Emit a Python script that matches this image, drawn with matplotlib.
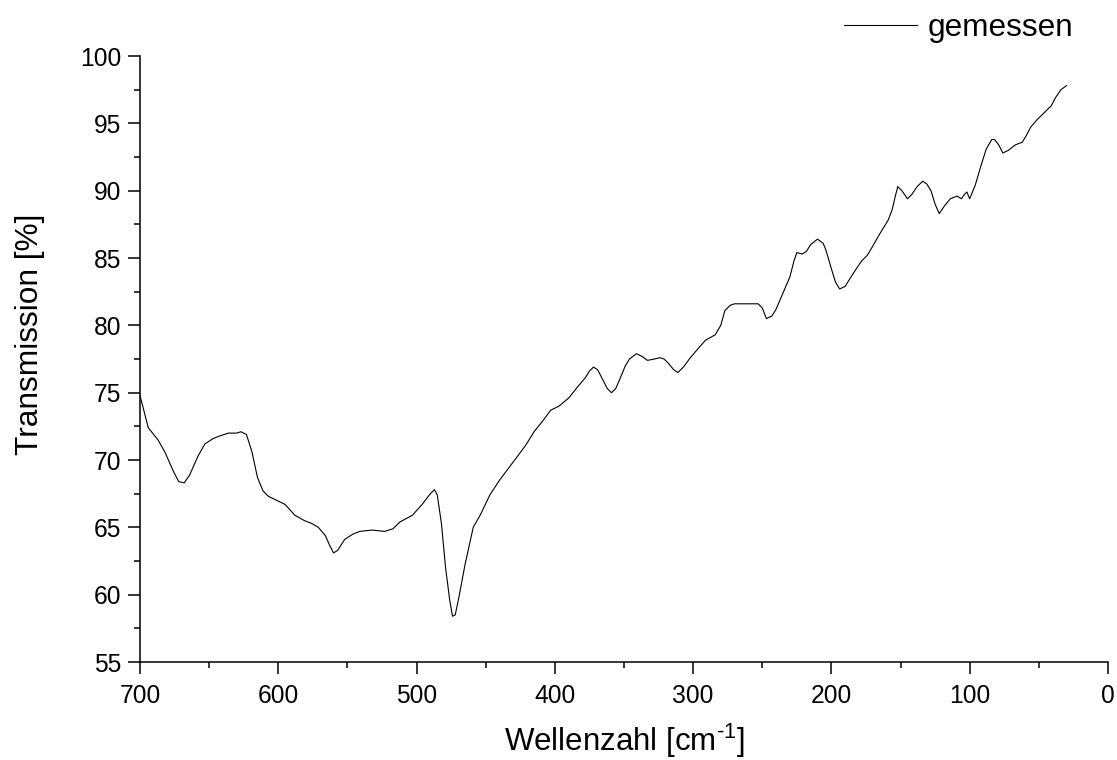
import numpy as np
import matplotlib
matplotlib.use('Agg')
import matplotlib.pyplot as plt

plt.rcParams['font.family'] = ['Liberation Sans', 'DejaVu Sans']
plt.rcParams['mathtext.fontset'] = 'custom'
plt.rcParams['mathtext.rm'] = 'Liberation Sans'
plt.rcParams['mathtext.it'] = 'Liberation Sans:italic'

# spectrum
wellenzahl = [700, 694, 687, 682, 676, 672, 668, 664, 658, 653, 647, 642, 636, 630, 627, 623,
              619, 615, 611, 607, 601, 595, 588, 581, 576, 571, 566, 563, 560, 557, 552, 546,
              541, 532, 523, 517, 512, 503, 496, 490, 487, 485, 482, 479, 476, 474, 472, 469,
              465, 459, 454, 447, 440, 432, 421, 415, 408, 403, 397, 390, 383, 378, 375, 372,
              369, 366, 362, 359, 356, 353, 349, 346, 341, 337, 333, 328, 324, 321, 318, 314,
              311, 307, 302, 297, 291, 284, 280, 277, 273, 270, 265, 259, 253, 250, 247, 243,
              240, 235, 230, 227, 225, 221, 218, 215, 210, 206, 204, 200, 197, 194, 190, 187,
              182, 178, 174, 170, 165, 159, 156, 154, 152, 149, 145, 142, 138, 134, 131, 128,
              125, 122, 118, 114, 109, 106, 104, 102, 100, 96, 92, 88, 84, 82, 79, 76, 72,
              67, 62, 59, 56, 51, 46, 41, 38, 34, 30]
transmission = [74.8, 72.4, 71.5, 70.6, 69.2, 68.4, 68.3, 68.9, 70.3, 71.2, 71.6, 71.8, 72.0, 72.0, 72.1, 71.9,
                70.6, 68.7, 67.7, 67.3, 67.0, 66.7, 65.9, 65.5, 65.3, 65.0, 64.4, 63.7, 63.1, 63.3, 64.1, 64.5,
                64.7, 64.8, 64.7, 64.9, 65.4, 65.9, 66.7, 67.5, 67.8, 67.4, 65.3, 62.0, 59.6, 58.4, 58.5, 60.0,
                62.2, 65.0, 65.9, 67.4, 68.5, 69.6, 71.1, 72.1, 73.0, 73.7, 74.0, 74.6, 75.5, 76.1, 76.6, 76.9,
                76.7, 76.1, 75.3, 75.0, 75.3, 76.0, 77.0, 77.5, 77.9, 77.7, 77.4, 77.5, 77.6, 77.5, 77.2, 76.7,
                76.5, 76.9, 77.6, 78.2, 78.9, 79.3, 80.0, 81.1, 81.5, 81.6, 81.6, 81.6, 81.6, 81.3, 80.5, 80.7,
                81.2, 82.4, 83.6, 84.8, 85.4, 85.3, 85.5, 86.0, 86.4, 86.1, 85.6, 84.2, 83.2, 82.7, 82.9, 83.4,
                84.2, 84.8, 85.2, 85.9, 86.8, 87.8, 88.6, 89.5, 90.3, 90.0, 89.4, 89.7, 90.3, 90.7, 90.5, 90.0,
                89.0, 88.3, 88.9, 89.4, 89.6, 89.4, 89.7, 89.9, 89.4, 90.4, 91.8, 93.1, 93.8, 93.8, 93.4, 92.8,
                93.0, 93.4, 93.6, 94.1, 94.7, 95.3, 95.8, 96.3, 96.9, 97.5, 97.8]

fig = plt.figure(figsize=(11.17, 7.6), dpi=100)
ax = fig.add_axes([0.1253, 0.1289, 0.8666, 0.7974])

ax.plot(wellenzahl, transmission, color='black', linewidth=0.8, label='gemessen')

ax.set_xlim(700, 0)
ax.set_ylim(55, 100)
ax.set_xticks(np.arange(700, -1, -100))
ax.set_xticks(np.arange(650, 0, -100), minor=True)
ax.set_yticks(np.arange(55, 101, 5))
ax.set_yticks(np.arange(57.5, 100, 5), minor=True)

for side in ['top', 'right']:
    ax.spines[side].set_visible(False)
for side in ['left', 'bottom']:
    ax.spines[side].set_linewidth(1.1)

ax.tick_params(which='major', direction='out', length=8.5, width=1.1, labelsize=17.7)
ax.tick_params(axis='x', which='major', pad=7)
ax.tick_params(axis='y', which='major', pad=5)
ax.tick_params(which='minor', direction='out', length=4.5, width=1.1)

ax.set_xlabel('Wellenzahl [cm$^{\\text{-}1}$]', fontsize=22.5, labelpad=10)
ax.set_ylabel('Transmission [%]', fontsize=22.8)
ax.yaxis.set_label_coords(-0.098, 0.54)

fig.legend(loc='center right', bbox_to_anchor=(0.961, 1 - 28 / 760), frameon=False, fontsize=22.7,
           handlelength=2.3, handletextpad=0.35, borderpad=0, borderaxespad=0)

fig.savefig('out.png', dpi=100)
